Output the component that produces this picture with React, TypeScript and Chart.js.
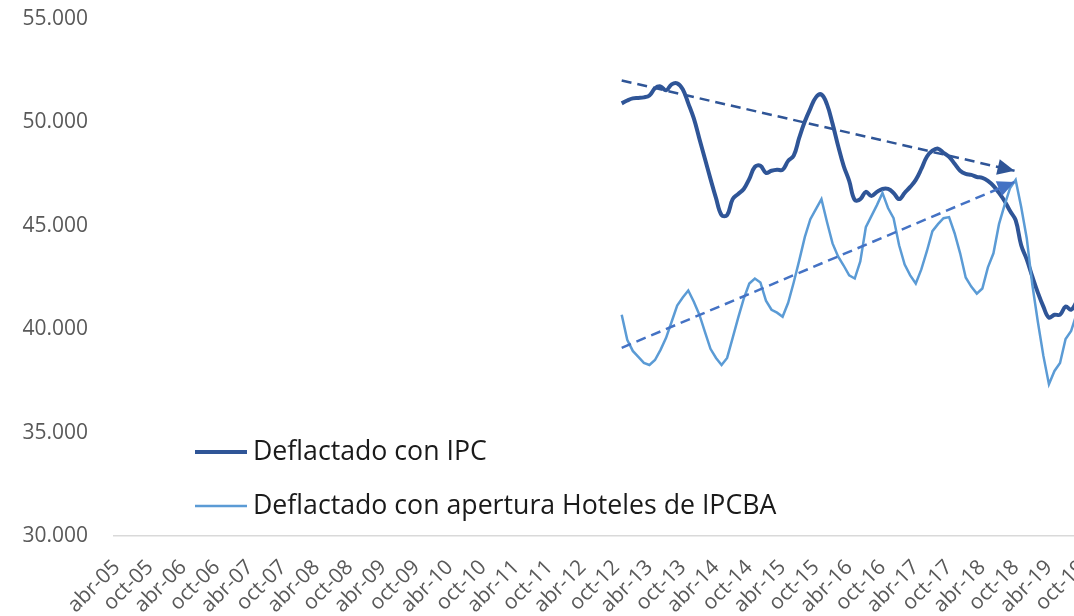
import { useEffect, useRef } from "react";
import { Chart, registerables } from "chart.js";

Chart.register(...registerables);

// ---- categories (monthly, abr-05 … oct-19) ----
const MONTH_NAMES = ["ene", "feb", "mar", "abr", "may", "jun", "jul", "ago", "sep", "oct", "nov", "dic"];
const AXIS_START_YEAR = 2005;
const AXIS_START_MONTH = 3; // abr
const AXIS_MONTHS = 175;
const TICK_EVERY = 6;
const categories: string[] = Array.from({ length: AXIS_MONTHS }, (_, i) => {
  const m = AXIS_START_MONTH + i;
  const yy = (AXIS_START_YEAR + Math.floor(m / 12)) % 100;
  return `${MONTH_NAMES[m % 12]}-${String(yy).padStart(2, "0")}`;
});

// ---- y axis ----
const Y_MIN = 30000;
const Y_MAX = 55000;
const Y_STEP = 5000;

// ---- series (monthly from nov-12) ----
const SERIES_START = "nov-12";

const ipcValues = [
  50920, 51060, 51160, 51180, 51210, 51300, 51650, 51740, 51550, 51840,
  51890, 51600, 50920, 50190, 49210, 48240, 47270, 46340, 45520, 45520,
  46290, 46540, 46780, 47270, 47850, 47900, 47560, 47660, 47710, 47710,
  48140, 48390, 49260, 50040, 50670, 51210, 51350, 50870, 49940, 48870,
  47900, 47170, 46250, 46290, 46640, 46440, 46640, 46780, 46780, 46590,
  46290, 46590, 46880, 47220, 47750, 48340, 48630, 48730, 48530, 48340,
  48000, 47660, 47510, 47460, 47360, 47320, 47170, 46930, 46590, 46200,
  45710, 45270, 44060, 43380, 42550, 41770, 41090, 40560, 40700, 40700,
  41090, 40940, 41330,
];

const hotelValues = [
  40700, 39490, 38950, 38660, 38370, 38270, 38510, 39000, 39580, 40360,
  41140, 41530, 41870, 41330, 40700, 39870, 39050, 38610, 38270, 38610,
  39580, 40560, 41480, 42210, 42450, 42260, 41380, 40940, 40800, 40600,
  41280, 42260, 43330, 44450, 45320, 45810, 46290, 45180, 44150, 43520,
  43080, 42600, 42450, 43280, 44930, 45470, 46000, 46590, 45860, 45370,
  44060, 43130, 42600, 42210, 42890, 43770, 44740, 45080, 45370, 45420,
  44640, 43670, 42500, 42060, 41720, 41970, 42990, 43670, 45080, 46000,
  46830, 47220, 45910, 44400, 42160, 40360, 38710, 37340, 37980, 38370,
  39530, 39920, 40750,
];

// ---- trend arrows (category index, value) ----
const ipcTrend = [
  { x: 91, y: 52030 },
  { x: 161.8, y: 47660 },
];
const hotelTrend = [
  { x: 91, y: 39100 },
  { x: 161.8, y: 47120 },
];

const SERIES_NAMES = ["Deflactado con IPC", "Deflactado con apertura Hoteles de IPCBA"];

const COLOR_IPC = "#2F5597";
const COLOR_HOTEL = "#5B9BD5";
const COLOR_HOTEL_TREND = "#4472C4";
const FONT = "'Open Sans', 'Noto Sans', sans-serif";

function alignToAxis(values: number[]): (number | null)[] {
  const start = categories.indexOf(SERIES_START);
  const out: (number | null)[] = new Array(AXIS_MONTHS).fill(null);
  values.forEach((v, i) => {
    if (start + i < AXIS_MONTHS) out[start + i] = v;
  });
  return out;
}

function fmtThousands(v: number): string {
  return String(Math.round(v)).replace(/\B(?=(\d{3})+(?!\d))/g, ".");
}

const arrowPlugin = {
  id: "trendArrows",
  afterDatasetsDraw(chart: any) {
    const ctx = chart.ctx;
    chart.data.datasets.forEach((ds: any, i: number) => {
      if (!ds.isArrow) return;
      const pts = chart.getDatasetMeta(i).data;
      if (pts.length < 2) return;
      const a = pts[pts.length - 2];
      const b = pts[pts.length - 1];
      const ang = Math.atan2(b.y - a.y, b.x - a.x);
      const L = 17;
      const W = 8;
      const c = Math.cos(ang);
      const s = Math.sin(ang);
      ctx.save();
      ctx.fillStyle = ds.borderColor;
      ctx.beginPath();
      ctx.moveTo(b.x, b.y);
      ctx.lineTo(b.x - L * c + W * s, b.y - L * s - W * c);
      ctx.lineTo(b.x - L * c - W * s, b.y - L * s + W * c);
      ctx.closePath();
      ctx.fill();
      ctx.restore();
    });
  },
};

const legendPlugin = {
  id: "insideLegend",
  afterDraw(chart: any) {
    const ctx = chart.ctx;
    const rows = [
      { ds: chart.data.datasets[0], y: 452 },
      { ds: chart.data.datasets[1], y: 506 },
    ];
    ctx.save();
    rows.forEach((r) => {
      ctx.strokeStyle = r.ds.borderColor;
      ctx.lineWidth = r.ds.borderWidth;
      ctx.lineCap = "butt";
      ctx.beginPath();
      ctx.moveTo(195, r.y);
      ctx.lineTo(247, r.y);
      ctx.stroke();
      ctx.fillStyle = "#1a1a1a";
      ctx.font = `26.7px ${FONT}`;
      ctx.textBaseline = "middle";
      ctx.textAlign = "left";
      ctx.fillText(r.ds.label, 253, r.y);
    });
    ctx.restore();
  },
};

export default function App() {
  const ref = useRef<HTMLCanvasElement | null>(null);

  useEffect(() => {
    document.documentElement.style.overflow = "hidden";
    document.body.style.margin = "0";
    document.body.style.overflow = "hidden";
    if (!ref.current) return;
    const chart = new Chart(ref.current, {
      type: "line",
      data: {
        labels: categories,
        datasets: [
          {
            label: SERIES_NAMES[0],
            data: alignToAxis(ipcValues),
            borderColor: COLOR_IPC,
            borderWidth: 4,
            pointRadius: 0,
            tension: 0.4,
            order: 3,
            xAxisID: "x",
          },
          {
            label: SERIES_NAMES[1],
            data: alignToAxis(hotelValues),
            borderColor: COLOR_HOTEL,
            borderWidth: 2.5,
            pointRadius: 0,
            tension: 0,
            order: 2,
            xAxisID: "x",
          },
          {
            label: "tendencia IPC",
            data: ipcTrend,
            borderColor: COLOR_IPC,
            borderWidth: 2.5,
            borderDash: [10, 6],
            pointRadius: 0,
            tension: 0,
            order: 1,
            xAxisID: "x2",
            isArrow: true,
          } as any,
          {
            label: "tendencia Hoteles",
            data: hotelTrend,
            borderColor: COLOR_HOTEL_TREND,
            borderWidth: 2.5,
            borderDash: [10, 6],
            pointRadius: 0,
            tension: 0,
            order: 1,
            xAxisID: "x2",
            isArrow: true,
          } as any,
        ],
      },
      options: {
        animation: false,
        responsive: false,
        maintainAspectRatio: false,
        layout: { padding: { top: 19, left: 0, right: 0, bottom: 0 } },
        plugins: {
          legend: { display: false },
          tooltip: { enabled: false },
        },
        scales: {
          x: {
            type: "category",
            offset: true,
            grid: { display: false, drawTicks: false },
            border: { display: true, color: "#D9D9D9", width: 1.5 },
            ticks: {
              autoSkip: false,
              minRotation: 45,
              maxRotation: 45,
              padding: 19,
              color: "#595959",
              font: { family: FONT, size: 21 },
              callback: (_v: any, i: number) => (i % TICK_EVERY === 0 ? categories[i] : ""),
            },
            afterFit: (s: any) => {
              s.height = 80;
              s.paddingLeft = 0;
              s.paddingRight = 0;
            },
          },
          x2: {
            type: "linear",
            display: false,
            min: -0.5,
            max: AXIS_MONTHS - 0.5,
          },
          y: {
            min: Y_MIN,
            max: Y_MAX,
            grid: { display: false, drawTicks: false },
            border: { display: false },
            ticks: {
              stepSize: Y_STEP,
              padding: 26,
              color: "#595959",
              font: { family: FONT, size: 21 },
              callback: (v: any) => fmtThousands(Number(v)),
            },
            afterFit: (s: any) => {
              s.width = 114;
              s.paddingTop = 0;
              s.paddingBottom = 0;
            },
          },
        },
      } as any,
      plugins: [arrowPlugin, legendPlugin],
    });
    return () => chart.destroy();
  }, []);

  return (
    <div style={{ width: 1074, height: 616, overflow: "hidden", position: "relative", background: "#fff" }}>
      <canvas ref={ref} width={1085} height={616} style={{ display: "block", width: 1085, height: 616 }} />
    </div>
  );
}
